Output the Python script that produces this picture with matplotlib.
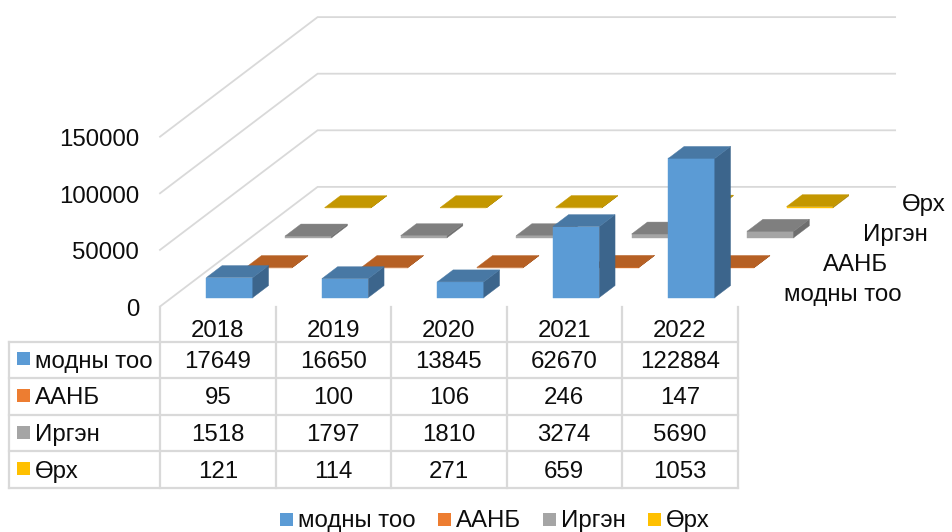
"""3D-looking clustered column chart with a data table, drawn with an oblique projection."""

import matplotlib

matplotlib.use("Agg")

import matplotlib.pyplot as plt

plt.rcParams["font.family"] = ["Liberation Sans", "DejaVu Sans"]

# data
YEARS = ["2018", "2019", "2020", "2021", "2022"]
SERIES = ["модны тоо", "ААНБ", "Иргэн", "Өрх"]
MODNY_TOO = [17649, 16650, 13845, 62670, 122884]
AANB = [95, 100, 106, 246, 147]
IRGEN = [1518, 1797, 1810, 3274, 5690]
ORH = [121, 114, 271, 659, 1053]
VALUES = [MODNY_TOO, AANB, IRGEN, ORH]
Y_TICKS = [0, 50000, 100000, 150000]

# (legend/front, top, side)
COLORS = [
    ("#5b9bd5", "#4878a4", "#3c658c"),
    ("#ed7d31", "#b66024", "#9c5220"),
    ("#a5a5a5", "#7f7f7f", "#6e6e6e"),
    ("#ffc000", "#c49700", "#a88200"),
]
GRID = "#d9d9d9"
TEXT = "#0d0d0d"
FS = 17.25

# chart geometry, in pixels of the 952x532 picture
W, H = 952, 532
X0, Y0 = 160, 306.5
CAT_PX = 115.5
VAL_PX = 56.6 / 50000
DX_PX, DY_PX = 39.4, 29.9  # shift for one series step in depth
BAR_W = 0.402
BAR_D = 0.40

fig = plt.figure(figsize=(W / 100, H / 100), dpi=100)
fig.patch.set_facecolor("white")

ax = fig.add_axes([0, 0, 1, 1])
ax.set_xlim(-X0 / CAT_PX, (W - X0) / CAT_PX)
ax.set_ylim(-(H - Y0) / VAL_PX, Y0 / VAL_PX)
ax.axis("off")

# second axes in pixels for the table and legend
tb = fig.add_axes([0, 0, 1, 1])
tb.set_xlim(0, W)
tb.set_ylim(H, 0)
tb.axis("off")
tb.patch.set_alpha(0)


def project(cat, depth, value):
    return cat + depth * DX_PX / CAT_PX, value + depth * DY_PX / VAL_PX


def face(points, color, z):
    xs, ys = zip(*[project(*p) for p in points])
    ax.fill(xs, ys, facecolor=color, edgecolor=color, linewidth=0.3, zorder=z)


# walls
n_cat = len(YEARS)
n_ser = len(SERIES)
for tick in Y_TICKS:
    xs, ys = zip(*[project(0, 0, tick), project(0, n_ser, tick), project(n_cat, n_ser, tick)])
    ax.plot(xs, ys, color=GRID, lw=1.3, zorder=1, solid_joinstyle="miter")
    ax.text(-0.18, tick - 9.5 / VAL_PX, str(tick), ha="right", va="baseline", fontsize=FS, color=TEXT)

# bars, back to front
z = 2
for s in reversed(range(n_ser)):
    front, top, side = COLORS[s]
    d0 = s + (1 - BAR_D) / 2
    d1 = d0 + BAR_D
    for c, val in enumerate(VALUES[s]):
        c0 = c + (1 - BAR_W) / 2
        c1 = c0 + BAR_W
        face([(c0, d0, 0), (c1, d0, 0), (c1, d0, val), (c0, d0, val)], front, z)
        face([(c1, d0, 0), (c1, d1, 0), (c1, d1, val), (c1, d0, val)], side, z)
        face([(c0, d0, val), (c1, d0, val), (c1, d1, val), (c0, d1, val)], top, z)
        z += 1

# depth axis labels
DEPTH_LABEL_X = [842.5, 856, 895, 924]
DEPTH_LABEL_Y = [301, 271, 241, 210.7]
for name, lx, ly in zip(SERIES, DEPTH_LABEL_X, DEPTH_LABEL_Y):
    tb.text(lx, ly, name, ha="center", va="baseline", fontsize=FS, color=TEXT)

# data table
ROW_Y = [341.5, 378, 414.7, 451.3, 487.7]
ROW_BASE = [367.7, 404.3, 441, 477.7]
LEFT = 9
RIGHT = X0 + n_cat * CAT_PX
for y in ROW_Y:
    tb.plot([LEFT, RIGHT], [y, y], color=GRID, lw=1.6, zorder=1)
tb.plot([LEFT, LEFT], [ROW_Y[0], ROW_Y[-1]], color=GRID, lw=1.6, zorder=1)
for c in range(n_cat + 1):
    x = X0 + c * CAT_PX
    tb.plot([x, x], [307, ROW_Y[-1]], color=GRID, lw=1.6, zorder=1)

for c, year in enumerate(YEARS):
    tb.text(X0 + (c + 0.5) * CAT_PX, 336.7, year, ha="center", va="baseline", fontsize=FS, color=TEXT)

for s, name in enumerate(SERIES):
    base = ROW_BASE[s]
    tb.fill([17, 30, 30, 17], [base - 15.5, base - 15.5, base - 2.5, base - 2.5], color=COLORS[s][0], lw=0)
    tb.text(35, base, name, ha="left", va="baseline", fontsize=FS, color=TEXT)
    for c, val in enumerate(VALUES[s]):
        tb.text(X0 + (c + 0.5) * CAT_PX, base, str(val), ha="center", va="baseline", fontsize=FS, color=TEXT)

# legend
LEG_X = [280, 438, 543, 648]
for s, (name, lx) in enumerate(zip(SERIES, LEG_X)):
    tb.fill([lx, lx + 13, lx + 13, lx], [513, 513, 526, 526], color=COLORS[s][0], lw=0)
    tb.text(lx + 18, 527, name, ha="left", va="baseline", fontsize=FS, color=TEXT)

fig.savefig("out.png", dpi=100, facecolor="white")
